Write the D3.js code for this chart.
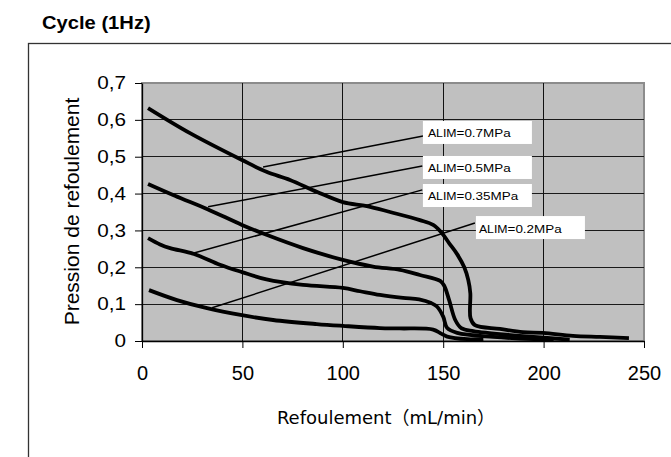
<!DOCTYPE html>
<html>
<head>
<meta charset="utf-8">
<script src="https://cdn.jsdelivr.net/npm/d3@7"></script>
<style>
  body { margin: 0; background: #fff; }
  svg { display: block; }
  text { font-family: "Liberation Sans", Arial, sans-serif; fill: #000; }
</style>
</head>
<body>
<svg id="chart" width="671" height="457"></svg>
<script>
// axis ticks
const flowTicks = [0, 50, 100, 150, 200, 250];
const pressureTicks = [0, 0.1, 0.2, 0.3, 0.4, 0.5, 0.6, 0.7];

// curves: [flow mL/min, pressure]
const alim07 = [[3, 0.632], [23.9, 0.564], [49.8, 0.491], [62, 0.459], [73.7, 0.437],
  [87, 0.405], [100, 0.377], [112, 0.366], [123.5, 0.35], [138.4, 0.328], [145, 0.315],
  [149, 0.295], [153, 0.265], [157, 0.235], [160.5, 0.2], [162.5, 0.165], [163.5, 0.13],
  [163.6, 0.062], [165.8, 0.043], [178.3, 0.033], [189.7, 0.024], [199.7, 0.022],
  [214.6, 0.014], [228, 0.011], [242.5, 0.008]];
const alim05 = [[3, 0.426], [16.4, 0.394], [32.9, 0.357], [49.8, 0.315], [62, 0.288],
  [80.2, 0.252], [100, 0.22], [115, 0.202], [128.5, 0.193], [138.4, 0.179], [148.5, 0.163],
  [150.5, 0.15], [153, 0.11], [156, 0.057], [159, 0.035], [165, 0.027], [172, 0.022],
  [195, 0.011], [213, 0.004]];
const alim035 = [[3, 0.279], [9, 0.262], [14, 0.252], [25.9, 0.236], [38.8, 0.207],
  [49.8, 0.187], [62, 0.167], [80.2, 0.152], [100, 0.144], [108.6, 0.135], [118.5, 0.125],
  [130, 0.117], [138, 0.113], [144, 0.103], [147, 0.093], [150, 0.066], [152, 0.035],
  [157, 0.022], [175, 0.011], [195, 0.005], [205, 0.004]];
const alim02 = [[3.5, 0.138], [17.4, 0.111], [32.4, 0.089], [49.8, 0.07], [65.3, 0.057],
  [87, 0.046], [100, 0.041], [118.5, 0.035], [128.5, 0.034], [145, 0.031], [149, 0.02],
  [152, 0.012], [162, 0.005], [170, 0.005]];

// callout labels: text, box corner [flow, pressure], leader from / to
const labelNames = ['=0.7MPa', '=0.5MPa', '=0.35MPa', '=0.2MPa'];
const labelCorners = [[139.9, 0.597], [139.9, 0.502], [139.9, 0.426], [166.3, 0.339]];
const leaderFrom = [[60.3, 0.472], [32.9, 0.364], [25.9, 0.239], [34.9, 0.09]];
const leaderTo = [[140, 0.556], [139.6, 0.475], [139.6, 0.410], [165.8, 0.32]];

const series = [alim07, alim05, alim035, alim02];

const svg = d3.select('#chart');
const W = 671;
const margin = {top: 83, right: 27, bottom: 116, left: 142};

const x = d3.scaleLinear().domain([0, 250]).range([margin.left, W - margin.right]);
const y = d3.scaleLinear().domain([0, 0.7]).range([457 - margin.bottom, margin.top]);

// outer chart frame (runs off the page right and bottom)
svg.append('rect')
  .attr('x', 28.5).attr('y', 43.5)
  .attr('width', 700).attr('height', 500)
  .attr('fill', 'none')
  .attr('stroke', '#333')
  .attr('stroke-width', 1.3);

svg.append('text')
  .attr('transform', 'translate(42,29) scale(1.12,1)')
  .attr('font-size', 18)
  .attr('font-weight', 'bold')
  .text('Cycle (1Hz)');

// plot area
svg.append('rect')
  .attr('x', x(0)).attr('y', y(0.7))
  .attr('width', x(250) - x(0)).attr('height', y(0) - y(0.7))
  .attr('fill', '#c0c0c0')
  .attr('stroke', '#8c8c8c')
  .attr('stroke-width', 2);

const grid = svg.append('g').attr('shape-rendering', 'crispEdges');
grid.selectAll('line.h')
  .data(pressureTicks.slice(1, -1))
  .enter()
  .append('line')
  .attr('class', 'h')
  .attr('x1', x(0)).attr('x2', x(250))
  .attr('y1', d => y(d)).attr('y2', d => y(d))
  .attr('stroke', '#1a1a1a');
grid.selectAll('line.v')
  .data(flowTicks.slice(1, -1))
  .enter()
  .append('line')
  .attr('class', 'v')
  .attr('x1', d => x(d)).attr('x2', d => x(d))
  .attr('y1', y(0.7)).attr('y2', y(0))
  .attr('stroke', '#111');

// axes
const yAxis = svg.append('g')
  .attr('transform', `translate(${x(0)},0)`)
  .call(d3.axisLeft(y)
    .tickValues(pressureTicks)
    .tickSize(7)
    .tickSizeOuter(0)
    .tickPadding(9)
    .tickFormat(d => d === 0 ? '0' : d.toFixed(1).replace('.', ',')));
yAxis.selectAll('text')
  .attr('font-size', 18)
  .attr('font-family', '"Liberation Sans", Arial, sans-serif')
  .attr('x', null)
  .attr('transform', 'translate(-16,0) scale(1.15,1)');

const xAxis = svg.append('g')
  .attr('transform', `translate(0,${y(0)})`)
  .call(d3.axisBottom(x)
    .tickValues(flowTicks)
    .tickSize(7)
    .tickSizeOuter(0)
    .tickPadding(18));
xAxis.selectAll('text')
  .attr('font-size', 20)
  .attr('font-family', '"Liberation Sans", Arial, sans-serif');
svg.selectAll('.domain').attr('stroke', '#000').attr('stroke-width', 1.3);
svg.selectAll('.tick line').attr('stroke', '#000');

// axis titles
svg.append('text')
  .attr('transform', `translate(79,${(y(0) + y(0.7)) / 2 - 0.5}) rotate(-90)`)
  .attr('text-anchor', 'middle')
  .attr('font-size', 21)
  .text('Pression de refoulement');

svg.append('text')
  .attr('x', (x(0) + x(250)) / 2 - 7)
  .attr('y', 424)
  .attr('text-anchor', 'middle')
  .attr('font-size', 18)
  .style('font-family', '"DejaVu Sans", "Noto Sans CJK JP", sans-serif')
  .text('Refoulement（mL/min）');

// leader lines
svg.selectAll('line.leader')
  .data(leaderFrom)
  .enter()
  .append('line')
  .attr('class', 'leader')
  .attr('x1', d => x(d[0])).attr('y1', d => y(d[1]))
  .attr('x2', (d, i) => x(leaderTo[i][0])).attr('y2', (d, i) => y(leaderTo[i][1]))
  .attr('stroke', '#000')
  .attr('stroke-width', 1.5);

// curves
const line = d3.line()
  .x(d => x(d[0]))
  .y(d => y(d[1]))
  .curve(d3.curveCatmullRom.alpha(0.5));

svg.selectAll('path.curve')
  .data(series)
  .enter()
  .append('path')
  .attr('class', 'curve')
  .attr('d', line)
  .attr('fill', 'none')
  .attr('stroke', '#000')
  .attr('stroke-width', 3.8)
  .attr('stroke-linejoin', 'round');

// callout boxes
const callouts = svg.selectAll('g.callout')
  .data(labelNames)
  .enter()
  .append('g')
  .attr('class', 'callout')
  .attr('transform', (d, i) => `translate(${x(labelCorners[i][0])},${y(labelCorners[i][1])})`);
callouts.append('rect')
  .attr('width', 109)
  .attr('height', 23)
  .attr('fill', '#fff');
const calloutText = callouts.append('text')
  .attr('transform', (d, i) => i === 3 ? 'translate(3,16.5) scale(1.17,1)' : 'translate(5,16.5) scale(1.17,1)');
calloutText.append('tspan').attr('font-size', 10.5).text('ALIM');
calloutText.append('tspan').attr('font-size', 11.5).text(d => d);
</script>
</body>
</html>
